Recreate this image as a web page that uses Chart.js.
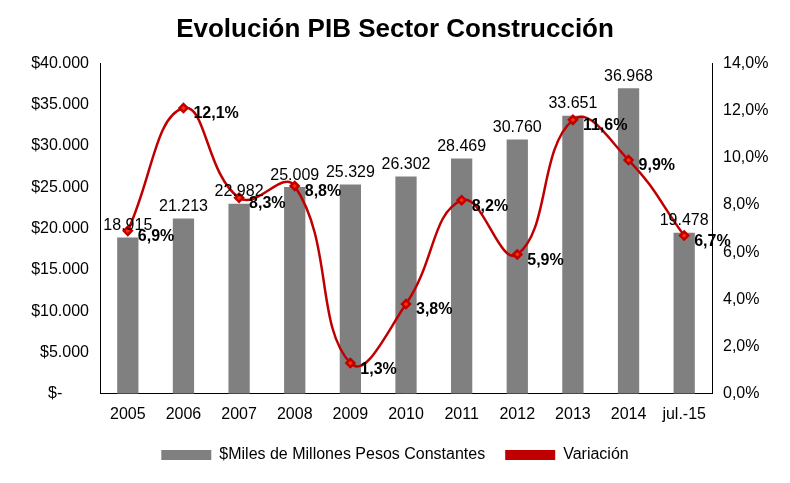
<!DOCTYPE html><html><head><meta charset="utf-8">
<script src="https://cdn.jsdelivr.net/npm/chart.js@4"></script>
<style>body{margin:0;background:#fff}#w{width:790px;height:483px}</style></head><body><div id="w"><canvas id="c"></canvas></div>
<script>
const categories=["2005","2006","2007","2008","2009","2010","2011","2012","2013","2014","jul.-15"];
const pib=[18915,21213,22982,25009,25329,26302,28469,30760,33651,36968,19478];
const variacion=[6.9,12.1,8.3,8.8,1.3,3.8,8.2,5.9,11.6,9.9,6.7];
const F="'Liberation Sans Narrow','Arial Narrow','Liberation Sans',sans-serif";
const fmtN=v=>v.toLocaleString('de-DE');
const labels={id:'labels',afterDatasetsDraw(ch){const c=ch.ctx;c.save();
 const m0=ch.getDatasetMeta(0),m1=ch.getDatasetMeta(1);
 c.fillStyle='#000';c.font='16px '+F;c.textAlign='center';c.textBaseline='bottom';
 m0.data.forEach((b,i)=>c.fillText(fmtN(pib[i]),b.x,b.y-4));
 c.font='bold 16px '+F;c.textAlign='left';c.textBaseline='middle';
 m1.data.forEach((p,i)=>c.fillText(variacion[i].toFixed(1).replace('.',',')+'%',p.x+10,p.y+6));
 c.restore();}};
new Chart(document.getElementById('c'),{data:{labels:categories,datasets:[
 {type:'bar',label:'$Miles de Millones Pesos Constantes',data:pib,backgroundColor:'#808080',yAxisID:'y',categoryPercentage:0.85,barPercentage:0.45,order:2},
 {type:'line',label:'Variación',data:variacion,borderColor:'#C00000',borderWidth:2.5,tension:0.45,pointStyle:'rectRot',pointRadius:4,pointBackgroundColor:'#FF3300',pointBorderColor:'#C00000',yAxisID:'y1',order:1}]},
options:{responsive:true,maintainAspectRatio:false,animation:false,
 layout:{padding:{top:8,left:4,right:4,bottom:10}},
 plugins:{title:{display:true,text:'Evolución PIB Sector Construcción',font:{family:F,size:26,weight:'bold'},color:'#000',padding:{top:6,bottom:18}},
  legend:{position:'bottom',labels:{font:{family:F,size:16},color:'#000',boxWidth:50,boxHeight:10,padding:20,
   generateLabels(ch){return [{text:'$Miles de Millones Pesos Constantes',fillStyle:'#808080',strokeStyle:'#808080',lineWidth:0,datasetIndex:0},{text:'Variación',fillStyle:'#C00000',strokeStyle:'#C00000',lineWidth:0,datasetIndex:1}]}}},
  tooltip:{enabled:false}},
 scales:{x:{grid:{display:false},border:{color:'#000'},ticks:{font:{family:F,size:16},color:'#000'}},
  y:{min:0,max:40000,ticks:{stepSize:5000,font:{family:F,size:16},color:'#000',callback:v=>v===0?'$-      ':'$'+fmtN(v)},grid:{display:false},border:{color:'#000'},afterFit(s){s.width=96}},
  y1:{position:'right',min:0,max:14,ticks:{stepSize:2,font:{family:F,size:16},color:'#000',callback:v=>v.toFixed(1).replace('.',',')+'%'},grid:{display:false},border:{color:'#000'},afterFit(s){s.width=74}}}},
plugins:[labels]});
</script></body></html>
